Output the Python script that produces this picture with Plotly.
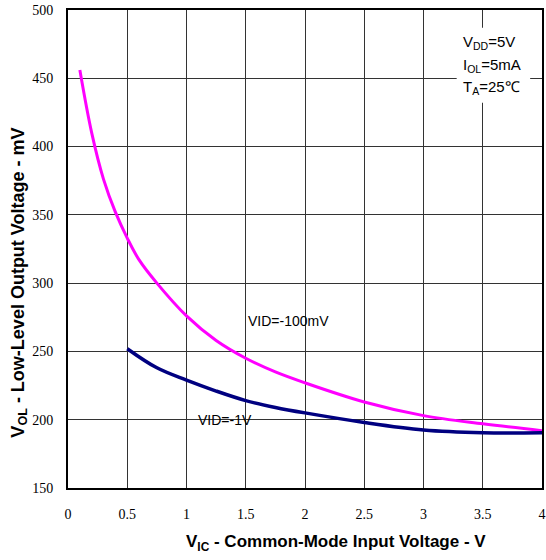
import plotly.graph_objects as go

# VID = -100 mV curve
vic_100mv = [0.1, 0.2, 0.3, 0.4, 0.5, 0.6, 0.75, 1.0, 1.25, 1.5, 1.75, 2.0, 2.5, 3.0, 3.5, 4.0]
vol_100mv = [456, 410, 376, 352, 333, 317, 300, 276, 258, 245, 235, 227, 213, 203, 197, 192]

# VID = -1 V curve
vic_1v = [0.5, 0.75, 1.0, 1.25, 1.5, 1.75, 2.0, 2.5, 3.0, 3.5, 4.0]
vol_1v = [252, 238, 229, 221, 214, 209, 205, 198, 192.5, 190.5, 190.5]

x_ticks = [0, 0.5, 1, 1.5, 2, 2.5, 3, 3.5, 4]
y_ticks = [150, 200, 250, 300, 350, 400, 450, 500]

conditions = ['V<sub>DD</sub>=5V', 'I<sub>OL</sub>=5mA', 'T<sub>A</sub>=25\u2103']
condition_y = [476, 459, 443]

fig = go.Figure()
fig.add_trace(go.Scatter(x=vic_100mv, y=vol_100mv, mode='lines',
                         line=dict(color='#FF00FF', width=3, shape='spline'),
                         showlegend=False))
fig.add_trace(go.Scatter(x=vic_1v, y=vol_1v, mode='lines',
                         line=dict(color='#000080', width=3.5, shape='spline'),
                         showlegend=False))

fig.add_annotation(x=1.5, y=272, text='VID=-100mV', showarrow=False, xanchor='left',
                   font=dict(family='Liberation Sans', size=14, color='black'))
fig.add_annotation(x=1.08, y=200, text='VID=-1V', showarrow=False, xanchor='left',
                   font=dict(family='Liberation Sans', size=14, color='black'))

# white box behind the test conditions, hiding the grid
fig.add_shape(type='rect', x0=3.28, x1=3.9, y0=432, y1=487, fillcolor='white',
              line=dict(width=0), layer='above')
for txt, yv in zip(conditions, condition_y):
    fig.add_annotation(x=3.32, y=yv, text=txt, showarrow=False, xanchor='left',
                       font=dict(family='Liberation Sans', size=15, color='black'))

# axis titles as annotations so they can sit where the original has them
fig.add_annotation(xref='paper', yref='paper', x=0.565, y=-0.115, showarrow=False,
                   xanchor='center', yanchor='middle',
                   text='<b>V<sub>IC</sub> - Common-Mode Input Voltage - V</b>',
                   font=dict(family='Liberation Sans', size=17, color='black'))
fig.add_annotation(xref='paper', yref='paper', x=-0.103, y=0.43, showarrow=False,
                   xanchor='center', yanchor='middle', textangle=-90,
                   text='<b>V<sub>OL</sub> - Low-Level Output Voltage - mV</b>',
                   font=dict(family='Liberation Sans', size=18, color='black'))

fig.update_xaxes(range=[0, 4], tickvals=x_ticks, ticktext=[f'{v:g}' for v in x_ticks],
                 showgrid=True, gridcolor='#333333', gridwidth=1,
                 showline=True, linecolor='black', linewidth=2, mirror=True,
                 ticks='', ticklabelstandoff=12, ticklabeloverflow='allow', automargin=False,
                 tickfont=dict(family='Liberation Serif', size=14, color='black'),
                 zeroline=False)
fig.update_yaxes(range=[150, 500], tickvals=y_ticks,
                 showgrid=True, gridcolor='#333333', gridwidth=1,
                 showline=True, linecolor='black', linewidth=2, mirror=True,
                 ticks='', ticklabelstandoff=10, ticklabeloverflow='allow', automargin=False,
                 tickfont=dict(family='Liberation Serif', size=14, color='black'),
                 zeroline=False)

fig.update_layout(width=546, height=560, plot_bgcolor='white', paper_bgcolor='white',
                  margin=dict(l=68, r=4, t=10, b=72))

# drop the default body margin so the figure fills the window
fig.write_html("out.html", config={'displayModeBar': False},
               post_script="document.body.style.margin='0';")
